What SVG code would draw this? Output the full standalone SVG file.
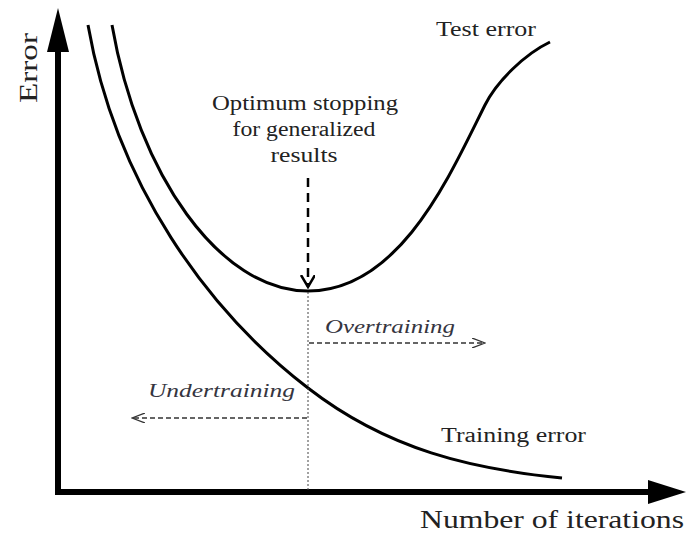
<svg xmlns="http://www.w3.org/2000/svg" width="689" height="533" viewBox="0 0 689 533" font-family="'Liberation Serif', 'Times New Roman', 'DejaVu Serif', serif">
<style>
text{fill:#222;font-family:"Liberation Serif","Times New Roman","DejaVu Serif",serif}
.it{font-style:italic;fill:#353540}
.curve{fill:none;stroke:#000;stroke-width:3}
.dash{fill:none;stroke:#333;stroke-width:1.3;stroke-dasharray:5 3}
</style>
<defs>
<marker id="openL" markerWidth="14" markerHeight="10" refX="13" refY="5" orient="auto" markerUnits="userSpaceOnUse">
<path d="M0,0 L13,5 L0,10" fill="none" stroke="#333" stroke-width="1.3"/>
</marker>
<marker id="vHead" markerWidth="14" markerHeight="16" refX="12" refY="7" orient="auto" markerUnits="userSpaceOnUse">
<path d="M0,0 L12,7 L0,14" fill="none" stroke="#000" stroke-width="2.5"/>
</marker>
</defs>
<g id="axes">
<line x1="58" y1="495" x2="58" y2="48" stroke="#000" stroke-width="6"/>
<polygon points="58,8 47,52 69,52" fill="#000"/>
<line x1="55" y1="492" x2="650" y2="492" stroke="#000" stroke-width="6"/>
<polygon points="686,492 648,480 648,504" fill="#000"/>
<text font-size="26" text-anchor="middle" textLength="70" lengthAdjust="spacingAndGlyphs" transform="translate(37,68) rotate(-90)">Error</text>
<text x="420" y="528" font-size="25" textLength="264" lengthAdjust="spacingAndGlyphs">Number of iterations</text>
</g>
<g id="test-error">
<path class="curve" d="M112,25 C138,175 220,291 308,291 C400,291 450,175 485,105 C497,81 525,54 550,42"/>
<text x="436" y="36" font-size="22" textLength="100" lengthAdjust="spacingAndGlyphs">Test error</text>
</g>
<g id="training-error">
<path class="curve" d="M88,25 C116,185 208,311 308,388 C388,450 472,469 562,478"/>
<text x="441" y="442" font-size="20.5" textLength="145" lengthAdjust="spacingAndGlyphs">Training error</text>
</g>
<g id="optimum">
<text text-anchor="middle" x="305" y="110" font-size="20.5" textLength="186" lengthAdjust="spacingAndGlyphs">Optimum stopping</text>
<text text-anchor="middle" x="304" y="136" font-size="20.5" textLength="143" lengthAdjust="spacingAndGlyphs">for generalized</text>
<text text-anchor="middle" x="304" y="162" font-size="20.5" textLength="67" lengthAdjust="spacingAndGlyphs">results</text>
</g>
<g id="connectors">
<line x1="308" y1="178" x2="308" y2="287" stroke="#000" stroke-width="2.5" stroke-dasharray="9 6" marker-end="url(#vHead)"/>
<line x1="308" y1="292" x2="308" y2="490" stroke="#444" stroke-width="1" stroke-dasharray="2 2"/>
<line class="dash" x1="309" y1="343" x2="485" y2="343" marker-end="url(#openL)"/>
<line class="dash" x1="307" y1="418" x2="132" y2="418" marker-end="url(#openL)"/>
</g>
<g id="overtraining">
<text class="it" x="325" y="333" font-size="18.5" textLength="130" lengthAdjust="spacingAndGlyphs">Overtraining</text>
</g>
<g id="undertraining">
<text class="it" x="148" y="397" font-size="18.5" textLength="147" lengthAdjust="spacingAndGlyphs">Undertraining</text>
</g>
</svg>
